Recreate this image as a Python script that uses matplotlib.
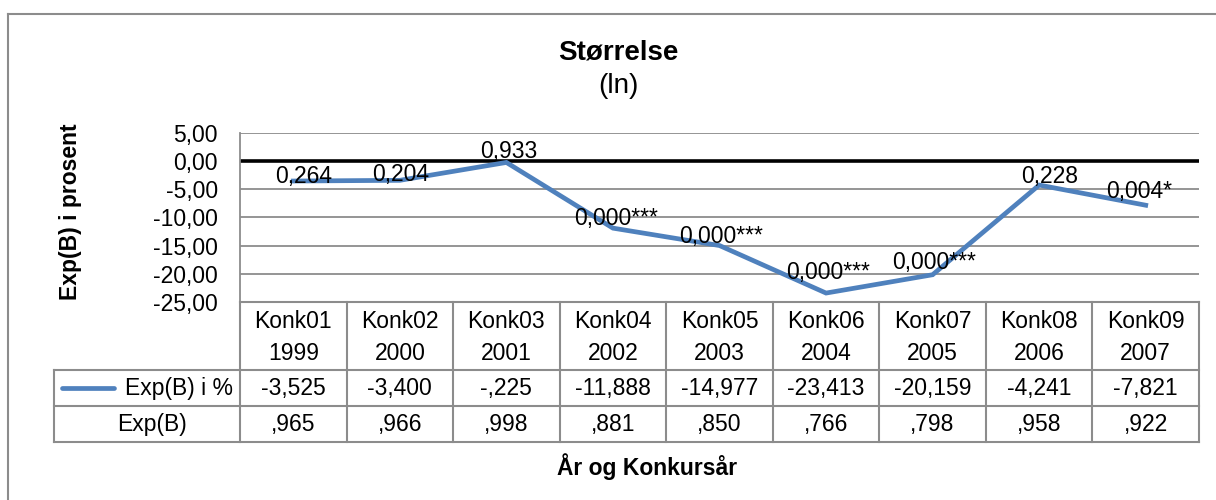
import matplotlib
matplotlib.use("Agg")
import matplotlib.pyplot as plt
import numpy as np

plt.rcParams['font.family'] = ['Liberation Sans', 'DejaVu Sans']

# --- data ---
konk = ['Konk01', 'Konk02', 'Konk03', 'Konk04', 'Konk05', 'Konk06', 'Konk07', 'Konk08', 'Konk09']
years = ['1999', '2000', '2001', '2002', '2003', '2004', '2005', '2006', '2007']
exp_b_pct = [-3.525, -3.400, -0.225, -11.888, -14.977, -23.413, -20.159, -4.241, -7.821]
exp_b = [0.965, 0.966, 0.998, 0.881, 0.850, 0.766, 0.798, 0.958, 0.922]
sig_labels = ['0,264', '0,204', '0,933', '0,000***', '0,000***', '0,000***', '0,000***', '0,228', '0,004*']

# label nudges in pixels (layout only)
label_dx = [10, 1, 2, 3, 2, 2, 1, 10, -7]
label_dy = [5, 6, 11, 10, 9, 21, 12, 9, 14]


def fmt_num(v, nd=3):
    s = f"{v:.{nd}f}".replace('.', ',')
    s = s.replace('-0,', '-,')
    if s.startswith('0,'):
        s = s[1:]
    return s


W, H = 1216, 500
fig = plt.figure(figsize=(W / 100, H / 100), dpi=100)

# pixel layout
pl, pr, pt, pb = 240, 1199, 133, 302
ax = fig.add_axes([pl / W, 1 - pb / H, (pr - pl) / W, (pb - pt) / H])

blue = '#4F81BD'
grid_c = '#8C8C8C'
fs = 16.5

x = np.arange(len(konk))
ax.plot(x, exp_b_pct, color=blue, lw=3.4, solid_joinstyle='miter', zorder=3)
ax.set_xlim(-0.5, len(konk) - 0.5)
ax.set_ylim(-25, 5)
ax.set_yticks(np.arange(-25, 6, 5))
ax.set_yticklabels([f"{v:.2f}".replace('.', ',') for v in np.arange(-25, 6, 5)], fontsize=fs)
ax.set_xticks([])
ax.tick_params(axis='y', length=0, pad=16)
for v in np.arange(-20, 6, 5):
    if v != 0:
        ax.axhline(v, color=grid_c, lw=1.3, zorder=1)
ax.axhline(0, color='black', lw=2.6, zorder=2)
for s in ['top', 'right', 'bottom']:
    ax.spines[s].set_visible(False)
ax.spines['left'].set_color(grid_c)
ax.spines['left'].set_linewidth(1.3)

for i, (v, lab) in enumerate(zip(exp_b_pct, sig_labels)):
    ax.annotate(lab, (i, v), xytext=(label_dx[i], label_dy[i]), textcoords='offset pixels',
                ha='center', va='center', fontsize=fs, color='black', zorder=4)

# overlay in pixel coordinates for table, titles, border
lay2 = fig.add_axes([0, 0, 1, 1])
lay2.set_xlim(0, W)
lay2.set_ylim(H, 0)
lay2.axis('off')
lay2.patch.set_alpha(0)

# outer chart border
lay2.plot([8, W + 5], [14, 14], color='#8C8C8C', lw=1.5)
lay2.plot([8, 8], [14, H + 5], color='#8C8C8C', lw=1.5)

# table
n = len(konk)
cw = (pr - pl) / n
edges = [pl + i * cw for i in range(n + 1)]
r_top, r_mid, r_3, r_bot = 302, 370, 406, 442
leg_l = 54
tc = '#8C8C8C'
tlw = 1.5
lay2.plot([pl, pr], [r_top, r_top], color=tc, lw=tlw)
lay2.plot([leg_l, pr], [r_mid, r_mid], color=tc, lw=tlw)
lay2.plot([leg_l, pr], [r_3, r_3], color=tc, lw=tlw)
lay2.plot([leg_l, pr], [r_bot, r_bot], color=tc, lw=tlw)
for e in edges:
    lay2.plot([e, e], [r_top, r_bot], color=tc, lw=tlw)
lay2.plot([leg_l, leg_l], [r_mid, r_bot], color=tc, lw=tlw)

for i in range(n):
    cx = (edges[i] + edges[i + 1]) / 2
    lay2.text(cx, 321, konk[i], ha='center', va='center', fontsize=fs)
    lay2.text(cx, 353, years[i], ha='center', va='center', fontsize=fs)
    lay2.text(cx, 389, fmt_num(exp_b_pct[i]), ha='center', va='center', fontsize=fs)
    lay2.text(cx, 424, fmt_num(exp_b[i]), ha='center', va='center', fontsize=fs)

lay2.plot([62, 114], [388, 388], color=blue, lw=3.4, solid_capstyle='round')
lay2.text(233, 389, 'Exp(B) i %', ha='right', va='center', fontsize=fs)
lay2.text(152, 424, 'Exp(B)', ha='center', va='center', fontsize=fs)

# titles
lay2.text(618, 52, 'Størrelse', ha='center', va='center', fontsize=20, fontweight='bold')
lay2.text(618, 86, '(ln)', ha='center', va='center', fontsize=20)
lay2.text(71, 212, 'Exp(B) i prosent', ha='center', va='center', fontsize=fs,
          fontweight='bold', rotation=90)
lay2.text(647, 467, 'År og Konkursår', ha='center', va='center', fontsize=fs, fontweight='bold')

fig.savefig('out.png', dpi=100, facecolor='white')
